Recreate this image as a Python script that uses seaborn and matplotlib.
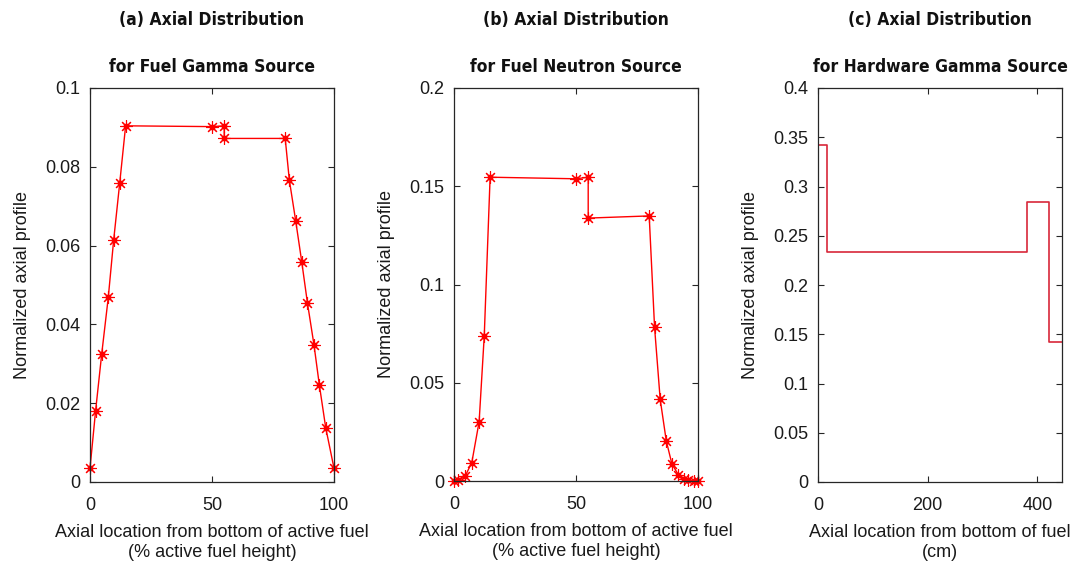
import matplotlib
matplotlib.use("Agg")
import matplotlib.pyplot as plt
from matplotlib import font_manager
import numpy as np
import pandas as pd
import seaborn as sns

# (a) fuel gamma source: % active fuel height vs normalized profile
gamma_x = [0, 2.3, 4.8, 7.5, 9.7, 12.2, 14.6, 50, 55, 55, 80,
           81.7, 84.3, 86.8, 89.1, 91.8, 94.0, 96.6, 100]
gamma_y = [0.0035, 0.0181, 0.0325, 0.0469, 0.0614, 0.0760, 0.0904, 0.0902,
           0.0904, 0.0872, 0.0872, 0.0766, 0.0663, 0.0558, 0.0455, 0.0348,
           0.0246, 0.0138, 0.0035]

# (b) fuel neutron source
neutron_x = [0, 1.8, 4.5, 7.3, 10.3, 12.4, 14.8, 50, 55, 55, 80,
             82.2, 84.5, 87.0, 89.3, 92.0, 94.1, 96.1, 98.2, 100]
neutron_y = [0.0, 0.0003, 0.0023, 0.0094, 0.0302, 0.0739, 0.1546, 0.1538,
             0.1546, 0.1338, 0.1349, 0.0782, 0.0416, 0.0204, 0.0087, 0.0031,
             0.0010, 0.0003, 0.0001, 0.0]

# (c) hardware gamma source: zone edges (cm) and zone values
hw_edges = [0, 17, 382, 421, 445]
hw_values = [0.342, 0.234, 0.284, 0.142]

titles = [("(a) Axial Distribution", "for Fuel Gamma Source"),
          ("(b) Axial Distribution", "for Fuel Neutron Source"),
          ("(c) Axial Distribution", "for Hardware Gamma Source")]
xlabels = ["Axial location from bottom of active fuel\n(% active fuel height)",
           "Axial location from bottom of active fuel\n(% active fuel height)",
           "Axial location from bottom of fuel\n(cm)"]
ylabel = "Normalized axial profile"

pct_ticks = [0, 50, 100]
cm_ticks = [0, 200, 400]
yticks_a = [0, 0.02, 0.04, 0.06, 0.08, 0.1]
ytick_labels_a = ["0", "0.02", "0.04", "0.06", "0.08", "0.1"]
yticks_b = [0, 0.05, 0.1, 0.15, 0.2]
ytick_labels_b = ["0", "0.05", "0.1", "0.15", "0.2"]
yticks_c = [0, 0.05, 0.1, 0.15, 0.2, 0.25, 0.3, 0.35, 0.4]
ytick_labels_c = ["0", "0.05", "0.1", "0.15", "0.2", "0.25", "0.3", "0.35", "0.4"]

sns.set_theme(style="ticks")
installed = {f.name for f in font_manager.fontManager.ttflist}
base_font = "Liberation Sans" if "Liberation Sans" in installed else "DejaVu Sans"
plt.rcParams["font.family"] = [base_font, "DejaVu Sans"]
plt.rcParams.update({
    "xtick.direction": "in", "ytick.direction": "in",
    "xtick.top": True, "ytick.right": True,
    "xtick.major.size": 4, "ytick.major.size": 4,
    "xtick.major.width": 0.8, "ytick.major.width": 0.8,
    "axes.edgecolor": "#262626", "axes.linewidth": 0.9,
    "xtick.color": "#262626", "ytick.color": "#262626",
})

W, H = 1073, 561
fig = plt.figure(figsize=(W / 100, H / 100), dpi=100)

def px_axes(left, top, right, bottom):
    return fig.add_axes([left / W, 1 - bottom / H, (right - left) / W, (bottom - top) / H])

ax_a = px_axes(90, 88, 334, 482)
ax_b = px_axes(454, 88, 698, 481)
ax_c = px_axes(818, 88, 1062, 482)

asterisk = (8, 2, 0)
line_kw = dict(color="red", linewidth=1.0, marker=asterisk, markersize=9,
               markeredgewidth=0.8, markeredgecolor="red", markerfacecolor="red",
               estimator=None, sort=False)

df_a = pd.DataFrame({"x": gamma_x, "y": gamma_y})
sns.lineplot(data=df_a, x="x", y="y", ax=ax_a, clip_on=False, **line_kw)
df_b = pd.DataFrame({"x": neutron_x, "y": neutron_y})
sns.lineplot(data=df_b, x="x", y="y", ax=ax_b, clip_on=False, **line_kw)
# small centre dots where the asterisk arms meet
for ax, xs, ys in [(ax_a, gamma_x, gamma_y), (ax_b, neutron_x, neutron_y)]:
    ax.plot(xs, ys, linestyle="none", marker="o", markersize=3.2,
            color="red", clip_on=False)
df_c = pd.DataFrame({"x": hw_edges, "y": hw_values + [hw_values[-1]]})
sns.lineplot(data=df_c, x="x", y="y", ax=ax_c, color="#d8283a", linewidth=1.2,
             drawstyle="steps-post", estimator=None, sort=False)

setup = [(ax_a, pct_ticks, (0, 100), yticks_a, ytick_labels_a, (0, 0.1)),
         (ax_b, pct_ticks, (0, 100), yticks_b, ytick_labels_b, (0, 0.2)),
         (ax_c, cm_ticks, (0, 445), yticks_c, ytick_labels_c, (0, 0.4))]

for i, (ax, xt, xl, yt, ytl, yl) in enumerate(setup):
    ax.set_xlim(*xl)
    ax.set_ylim(*yl)
    ax.set_xticks(xt)
    ax.set_xticklabels([str(v) for v in xt])
    ax.set_yticks(yt)
    ax.set_yticklabels(ytl)
    ax.tick_params(labelsize=13, colors="#262626", labelcolor="#1a1a1a")
    ax.tick_params(axis="x", pad=11)
    ax.tick_params(axis="y", pad=7)
    ax.set_xlabel(xlabels[i], fontsize=13, color="#1a1a1a", labelpad=7, linespacing=1.25)
    ax.set_ylabel(ylabel, fontsize=13, color="#1a1a1a", labelpad=10)
    for s in ax.spines.values():
        s.set_visible(True)
    pos = ax.get_position()
    cx = pos.x0 + pos.width / 2
    for j, yy in enumerate([20, 67]):
        fig.text(cx, 1 - yy / H, titles[i][j], ha="center", va="center",
                 fontsize=12.5, fontweight="bold", fontstretch="condensed",
                 family=["DejaVu Sans"], color="#111111")

fig.savefig("out.png", dpi=100, facecolor="white")
